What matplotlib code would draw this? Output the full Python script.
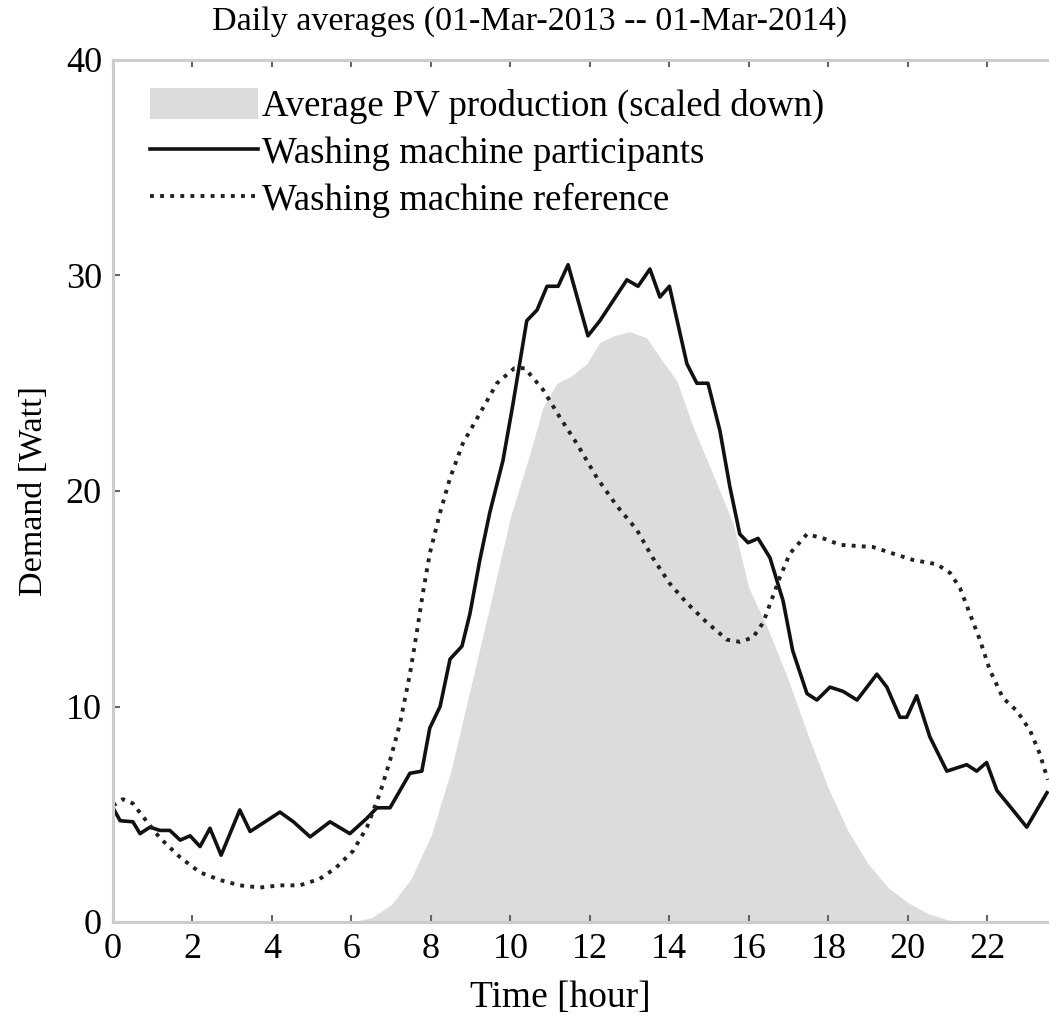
import matplotlib
matplotlib.use("Agg")
import matplotlib.pyplot as plt

plt.rcParams['font.family'] = ['Liberation Serif', 'DejaVu Serif']

# washing machine participants (hour, Watt)
part_h = [0.0, 0.18, 0.5, 0.68, 0.93, 1.18, 1.43, 1.69, 1.94, 2.19, 2.44, 2.72, 3.19, 3.45,
          4.2, 4.54, 4.96, 5.46, 5.96, 6.38, 6.64, 6.97, 7.47, 7.77, 7.97, 8.23, 8.48, 8.78,
          8.98, 9.23, 9.48, 9.81, 10.06, 10.41, 10.67, 10.92, 11.2, 11.45, 11.95, 12.25,
          12.93, 13.21, 13.51, 13.76, 14.0, 14.44, 14.69, 14.97, 15.27, 15.52, 15.77, 15.98,
          16.23, 16.53, 16.86, 17.1, 17.46, 17.71, 18.04, 18.37, 18.72, 19.22, 19.47, 19.8,
          19.97, 20.22, 20.55, 20.98, 21.48, 21.73, 21.98, 22.24, 22.64, 22.99, 23.5]
part_w = [5.3, 4.7, 4.65, 4.1, 4.4, 4.25, 4.25, 3.8, 4.0, 3.5, 4.35, 3.1, 5.2, 4.2,
          5.1, 4.65, 3.95, 4.65, 4.1, 4.8, 5.3, 5.3, 6.9, 7.0, 9.0, 10.0, 12.2, 12.8,
          14.3, 16.8, 19.0, 21.4, 24.0, 27.9, 28.4, 29.5, 29.5, 30.5, 27.2, 27.9,
          29.8, 29.5, 30.3, 29.0, 29.5, 25.9, 25.0, 25.0, 22.8, 20.2, 18.0, 17.6,
          17.8, 16.9, 14.9, 12.6, 10.6, 10.3, 10.9, 10.7, 10.3, 11.5, 10.9, 9.5,
          9.5, 10.5, 8.6, 7.0, 7.3, 7.0, 7.4, 6.1, 5.2, 4.4, 6.0]

# washing machine reference (hour, Watt)
ref_h = [0.0, 0.25, 0.5, 0.75, 1.18, 1.69, 2.19, 2.69, 3.19, 3.7, 4.2, 4.7, 5.2, 5.6, 6.04,
         6.39, 6.72, 6.97, 7.22, 7.47, 7.64, 7.8, 7.97, 8.23, 8.48, 8.8, 9.23, 9.66, 10.1,
         10.36, 10.82, 11.25, 11.67, 12.18, 12.68, 13.18, 13.58, 14.01, 14.44, 14.94, 15.45,
         15.77, 16.1, 16.36, 16.6, 16.78, 17.03, 17.46, 17.87, 18.3, 19.12, 19.62, 20.13,
         20.73, 21.06, 21.31, 21.56, 21.81, 22.06, 22.39, 22.74, 23.07, 23.32, 23.52]
ref_w = [5.4, 5.7, 5.5, 4.9, 3.9, 3.0, 2.3, 1.95, 1.7, 1.6, 1.7, 1.7, 2.0, 2.5, 3.3,
         4.4, 6.0, 7.5, 9.2, 11.5, 13.4, 15.3, 17.1, 19.0, 20.6, 22.2, 23.6, 25.0, 25.7,
         25.7, 24.7, 23.4, 22.2, 20.6, 19.3, 18.2, 16.9, 15.7, 14.8, 13.9, 13.1,
         13.0, 13.2, 13.9, 15.1, 16.0, 17.1, 18.0, 17.8, 17.5, 17.4, 17.1, 16.8,
         16.6, 16.2, 15.5, 14.3, 13.1, 11.7, 10.4, 9.8, 8.9, 7.8, 6.6]

# average PV production, scaled down
pv_h = [0.0, 6.0, 6.5, 7.0, 7.5, 8.0, 8.5, 9.0, 9.5, 10.0, 10.5, 10.82, 11.17, 11.5, 11.92,
        12.25, 12.6, 13.0, 13.43, 13.76, 14.19, 14.59, 15.09, 15.6, 16.0, 16.5, 17.0, 17.5,
        18.0, 18.5, 19.0, 19.5, 20.0, 20.5, 21.0, 21.5, 23.6]
pv_w = [0.0, 0.0, 0.2, 0.8, 2.0, 4.0, 7.0, 10.9, 14.8, 18.8, 21.8, 23.9, 25.0, 25.3, 25.9,
        26.9, 27.2, 27.4, 27.1, 26.2, 25.1, 23.0, 20.8, 18.5, 15.5, 13.5, 11.2, 8.6,
        6.2, 4.2, 2.7, 1.6, 0.9, 0.4, 0.1, 0.0, 0.0]

fig = plt.figure(figsize=(10.49, 10.16), dpi=100)
ax = fig.add_axes([113/1049, 94/1016, 936/1049, 862/1016])

ax.fill_between(pv_h, pv_w, 0, color='#dcdcdc', lw=0, label='Average PV production (scaled down)')
ax.plot(part_h, part_w, color='#111111', lw=2.6, label='Washing machine participants')
ax.plot(ref_h, ref_w, color='#222222', lw=2.8, linestyle=(0, (1, 1.6)),
        label='Washing machine reference')

ax.set_xlim(0, 23.55)
ax.set_ylim(0, 40)
ax.set_xticks(range(0, 24, 2))
ax.set_yticks([0, 10, 20, 30, 40])

for s in ['left', 'top', 'bottom']:
    ax.spines[s].set_color('#cccccc')
    ax.spines[s].set_linewidth(2.2)
ax.spines['right'].set_visible(False)
ax.tick_params(direction='in', length=5, width=1.5, color='#666666', labelsize=26,
               top=True, right=False, pad=8)

ax.set_xlabel('Time [hour]', fontsize=27)
ax.xaxis.set_label_coords(447/936, -0.068)
ax.set_ylabel('Demand [Watt]', fontsize=24.5)
ax.yaxis.set_label_coords(-0.068, 0.5)

fig.text(530/1049, 1 - 22/1016, 'Daily averages (01-Mar-2013 -- 01-Mar-2014)',
         fontsize=24.5, ha='center', va='center')

ax.legend(loc='upper left', bbox_to_anchor=(37/936, 1 - 28/862), frameon=False,
          fontsize=26.5, handlelength=2.93, handleheight=0.9, handletextpad=0.11,
          labelspacing=0.3, borderaxespad=0, borderpad=0)

fig.savefig('out.png', dpi=100)
